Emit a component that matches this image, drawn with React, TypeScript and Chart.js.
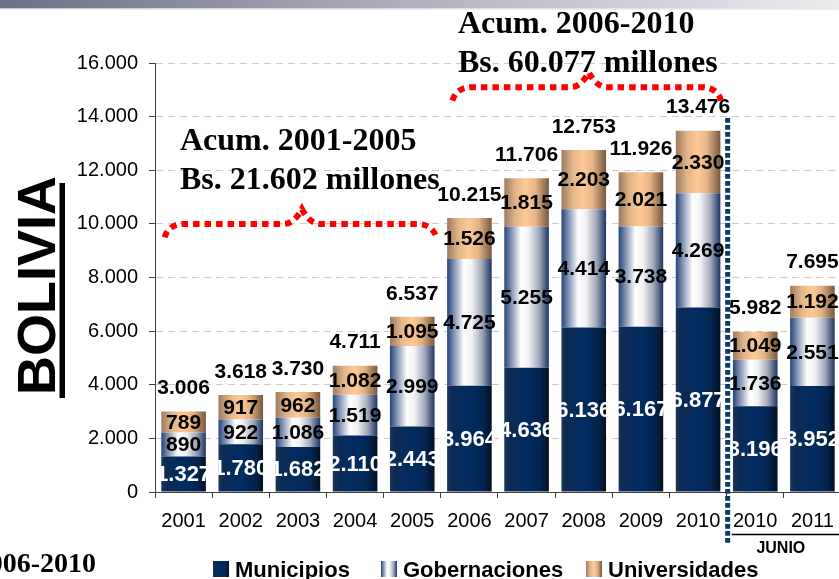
import React, { useEffect, useRef } from 'react';
import { Chart, registerables } from 'chart.js';

Chart.register(...registerables);

// ---------- data ----------
const categories = ['2001', '2002', '2003', '2004', '2005', '2006', '2007', '2008', '2009', '2010', '2010', '2011'];
const municipios = [1327, 1780, 1682, 2110, 2443, 3964, 4636, 6136, 6167, 6877, 3196, 3952];
const gobernaciones = [890, 922, 1086, 1519, 2999, 4725, 5255, 4414, 3738, 4269, 1736, 2551];
const universidades = [789, 917, 962, 1082, 1095, 1526, 1815, 2203, 2021, 2330, 1049, 1192];
const totals = [3006, 3618, 3730, 4711, 6537, 10215, 11706, 12753, 11926, 13476, 5982, 7695];
const seriesNames = ['Municipios', 'Gobernaciones', 'Universidades'];
const yMax = 16000;
const yStep = 2000;
const accum1 = ['Acum. 2001-2005', 'Bs. 21.602 millones'];
const accum2 = ['Acum. 2006-2010', 'Bs. 60.077 millones'];
const sideTitle = 'BOLIVIA';
const juneLabel = 'JUNIO';
const cutText = '006-2010';

// ---------- styles ----------
const SANS = '"Liberation Sans", Arial, Helvetica, sans-serif';
const SERIF = '"Liberation Serif", "Times New Roman", serif';
const BAR_FRAC = 0.78;
const LEGEND_BOX_X = [213, 381, 586];

const munStops: [number, string][] = [
  [0, '#1b3558'], [0.12, '#0b2a55'], [0.5, '#002c61'], [0.82, '#03244f'], [1, '#050f1f'],
];
const gobStops: [number, string][] = [
  [0, '#22447a'], [0.15, '#7f8fb2'], [0.38, '#ffffff'], [0.55, '#f1f1f3'], [0.78, '#a2a9bb'], [1, '#1c3563'],
];
const uniStops: [number, string][] = [
  [0, '#9c7c62'], [0.25, '#e2b487'], [0.48, '#fdca97'], [0.7, '#e6b485'], [1, '#765840'],
];
const allStops = [munStops, gobStops, uniStops];

const fmt = (v: number) => String(Math.round(v)).replace(/\B(?=(\d{3})+(?!\d))/g, '.');

const makeBg = (stops: [number, string][]) => (ctx: any) => {
  const chart = ctx.chart;
  const xs = chart.scales && chart.scales.x;
  if (!xs || !chart.chartArea || ctx.dataIndex === undefined) return stops[2][1];
  const cx = xs.getPixelForValue(ctx.dataIndex);
  const w = (xs.width / categories.length) * BAR_FRAC;
  const g = chart.ctx.createLinearGradient(cx - w / 2, 0, cx + w / 2, 0);
  stops.forEach(([o, c]) => g.addColorStop(o, c));
  return g;
};

const labelsPlugin = {
  id: 'segLabels',
  afterDatasetsDraw(chart: any) {
    const ctx = chart.ctx;
    const data = [municipios, gobernaciones, universidades];
    ctx.save();
    ctx.textAlign = 'center';
    ctx.textBaseline = 'middle';
    data.forEach((arr, di) => {
      const meta = chart.getDatasetMeta(di);
      ctx.font = di === 0 ? `bold 22px ${SANS}` : `bold 21px ${SANS}`;
      meta.data.forEach((el: any, i: number) => {
        ctx.fillStyle = di === 0 ? '#ffffff' : '#000000';
        ctx.fillText(fmt(arr[i]), el.x, (el.y + el.base) / 2 + 1);
      });
    });
    const top = chart.getDatasetMeta(2);
    ctx.font = `bold 21px ${SANS}`;
    ctx.fillStyle = '#000000';
    top.data.forEach((el: any, i: number) => {
      ctx.fillText(fmt(totals[i]), el.x, el.y - 23);
    });
    ctx.restore();
  },
};

const brace = (ctx: any, x0: number, x1: number, xp: number, yEnd: number, yMid: number, yPeak: number) => {
  ctx.beginPath();
  ctx.moveTo(x0, yEnd);
  ctx.quadraticCurveTo(x0 + 4, yMid, x0 + 20, yMid);
  ctx.lineTo(xp - 18, yMid);
  ctx.quadraticCurveTo(xp - 8, yMid, xp, yPeak);
  ctx.quadraticCurveTo(xp + 8, yMid, xp + 18, yMid);
  ctx.lineTo(x1 - 20, yMid);
  ctx.quadraticCurveTo(x1 - 4, yMid, x1, yEnd);
  ctx.stroke();
};

const decorPlugin = {
  id: 'decor',
  afterDraw(chart: any) {
    const ctx = chart.ctx;
    const xs = chart.scales.x;
    const ys = chart.scales.y;
    const cx = (i: number) => xs.getPixelForValue(i);
    ctx.save();

    // top band
    const band = ctx.createLinearGradient(0, 0, 839, 0);
    band.addColorStop(0, '#6c6f86');
    band.addColorStop(0.5, '#b1b2bf');
    band.addColorStop(1, '#ececef');
    ctx.fillStyle = band;
    ctx.fillRect(0, 0, chart.width, 8.5);
    ctx.fillStyle = '#dcdce2';
    ctx.fillRect(0, 8.5, chart.width, 1);

    // red braces
    ctx.strokeStyle = '#ff0000';
    ctx.lineWidth = 6;
    ctx.setLineDash([6.5, 5]);
    brace(ctx, cx(0) - 19, cx(4) + 24, cx(2) + 4, ys.getPixelForValue(9500), ys.getPixelForValue(10000), ys.getPixelForValue(10550));
    brace(ctx, cx(5) - 17, cx(9) + 23, cx(7) + 5, ys.getPixelForValue(14600), ys.getPixelForValue(15100), ys.getPixelForValue(15650));
    ctx.setLineDash([]);

    // accumulated texts
    ctx.fillStyle = '#000000';
    ctx.font = `bold 32px ${SERIF}`;
    ctx.textAlign = 'left';
    ctx.textBaseline = 'alphabetic';
    ctx.fillText(accum1[0], 180, 150);
    ctx.fillText(accum1[1], 180, 189);
    ctx.fillText(accum2[0], 458, 33);
    ctx.fillText(accum2[1], 458, 72);

    // dotted blue separator
    const sepX = (cx(9) + cx(10)) / 2 + 1;
    ctx.strokeStyle = '#0b3a6b';
    ctx.lineWidth = 5;
    ctx.setLineDash([4.7, 2.3]);
    ctx.beginPath();
    ctx.moveTo(sepX, 118);
    ctx.lineTo(sepX, 543);
    ctx.stroke();
    ctx.setLineDash([]);

    // JUNIO
    ctx.strokeStyle = '#000000';
    ctx.lineWidth = 1.5;
    ctx.beginPath();
    ctx.moveTo(sepX + 4, 534.5);
    ctx.lineTo(chart.width, 534.5);
    ctx.stroke();
    ctx.font = `bold 16px ${SANS}`;
    ctx.textAlign = 'center';
    ctx.fillText(juneLabel, (cx(10) + cx(11)) / 2 - 3, 553);

    // BOLIVIA rotated
    ctx.save();
    ctx.translate(55, 395);
    ctx.rotate(-Math.PI / 2);
    ctx.font = `bold 54px ${SANS}`;
    ctx.textAlign = 'left';
    ctx.fillText(sideTitle, 0, 0);
    ctx.restore();
    ctx.fillRect(59.5, 183, 5.5, 215);

    // cut text bottom-left
    ctx.font = `bold 28px ${SERIF}`;
    ctx.textAlign = 'right';
    ctx.fillText(cutText, 96, 572);

    // legend
    ctx.font = `bold 22px ${SANS}`;
    ctx.textAlign = 'left';
    seriesNames.forEach((name, i) => {
      const x = LEGEND_BOX_X[i];
      const g = ctx.createLinearGradient(x, 0, x + 16, 0);
      allStops[i].forEach(([o, c]) => g.addColorStop(o, c));
      ctx.fillStyle = g;
      ctx.fillRect(x, 561, 16, 16);
      ctx.fillStyle = '#000000';
      ctx.fillText(name, x + 22, 577);
    });

    ctx.restore();
  },
};

export default function App() {
  const ref = useRef<HTMLCanvasElement | null>(null);

  useEffect(() => {
    if (!ref.current) return;
    const chart = new Chart(ref.current, {
      type: 'bar',
      data: {
        labels: categories,
        datasets: [
          { label: seriesNames[0], data: municipios, backgroundColor: makeBg(munStops) as any, borderWidth: 0 },
          { label: seriesNames[1], data: gobernaciones, backgroundColor: makeBg(gobStops) as any, borderWidth: 0 },
          { label: seriesNames[2], data: universidades, backgroundColor: makeBg(uniStops) as any, borderWidth: 0 },
        ],
      },
      options: {
        responsive: true,
        maintainAspectRatio: false,
        animation: false,
        datasets: { bar: { barPercentage: BAR_FRAC, categoryPercentage: 1 } },
        layout: { padding: { top: 63, left: 0, right: 2, bottom: 0 } },
        plugins: { legend: { display: false }, tooltip: { enabled: false }, title: { display: false } },
        scales: {
          x: {
            stacked: true,
            offset: true,
            afterFit: (s: any) => { s.height = 87; },
            grid: { display: true, drawOnChartArea: false, offset: true, tickLength: 6, color: '#404040' },
            border: { display: true, color: '#404040', width: 1 },
            ticks: { color: '#000000', font: { family: SANS, size: 20 }, padding: 11, maxRotation: 0, autoSkip: false },
          },
          y: {
            stacked: true,
            min: 0,
            max: yMax,
            afterFit: (s: any) => { s.width = 155; },
            grid: { color: '#cccccc', tickLength: 6, tickColor: '#404040', drawTicks: true },
            border: { display: true, color: '#404040', width: 1, dash: [7, 5] },
            ticks: { stepSize: yStep, color: '#000000', font: { family: SANS, size: 20 }, padding: 11, callback: (v: any) => fmt(Number(v)) },
          },
        },
      },
      plugins: [labelsPlugin, decorPlugin],
    });
    return () => chart.destroy();
  }, []);

  return (
    <div style={{ position: 'fixed', left: 0, top: 0, width: 839, height: 579, overflow: 'hidden', background: '#ffffff' }}>
      <div style={{ position: 'absolute', left: 0, top: 0, width: 845, height: 579 }}>
        <canvas ref={ref} />
      </div>
    </div>
  );
}
